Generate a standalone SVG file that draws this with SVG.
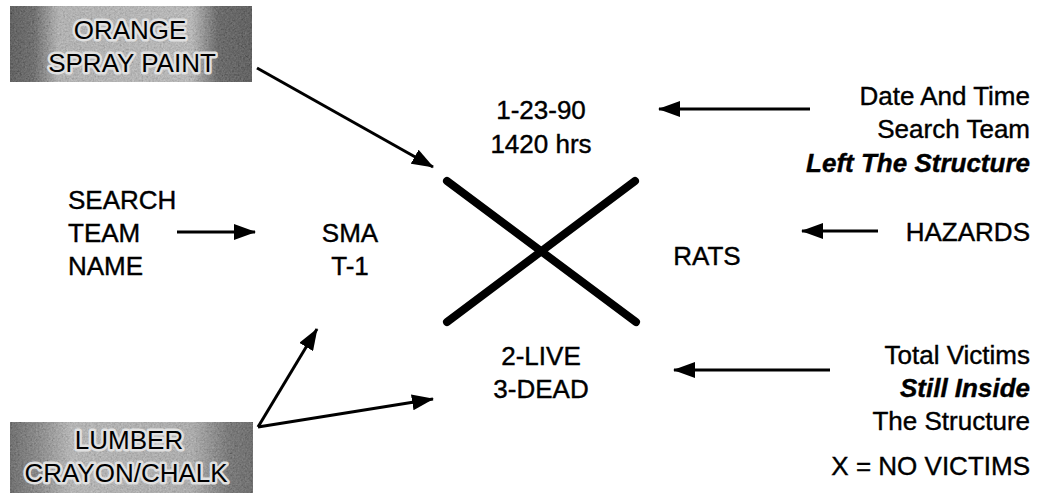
<svg xmlns="http://www.w3.org/2000/svg" width="1037" height="493" viewBox="0 0 1037 493">
<style>
text{font-family:"Liberation Sans",Arial,Helvetica,sans-serif;font-size:26px;fill:#000;stroke:#000;stroke-width:0.4px}
.c{text-anchor:middle}
.e{text-anchor:end}
.bi{font-weight:bold;font-style:italic}
.lbl{paint-order:stroke;stroke:#e0e0e0;stroke-width:5px;stroke-linejoin:round}
.conn{stroke:#000;stroke-width:3;fill:none;marker-end:url(#ah)}
.x{stroke:#000;stroke-width:8;stroke-linecap:round}
</style>
<defs>
<marker id="ah" viewBox="0 0 22 16" refX="21" refY="8" markerWidth="22" markerHeight="16" markerUnits="userSpaceOnUse" orient="auto">
<path d="M0,0 L22,8 L0,16 z" fill="#000"/>
</marker>
<linearGradient id="g1" x1="0" y1="0" x2="1" y2="0">
<stop offset="0" stop-color="#1a1a1a"/>
<stop offset="0.1" stop-color="#333"/>
<stop offset="0.2" stop-color="#aaa"/>
<stop offset="0.75" stop-color="#b5b5b5"/>
<stop offset="0.86" stop-color="#2a2a2a"/>
<stop offset="1" stop-color="#1a1a1a"/>
</linearGradient>
<linearGradient id="g2" x1="0" y1="0" x2="1" y2="0">
<stop offset="0" stop-color="#333"/>
<stop offset="0.12" stop-color="#666"/>
<stop offset="0.25" stop-color="#b0b0b0"/>
<stop offset="0.75" stop-color="#a0a0a0"/>
<stop offset="0.9" stop-color="#444"/>
<stop offset="1" stop-color="#333"/>
</linearGradient>
<filter id="noise" x="0" y="0" width="100%" height="100%">
<feTurbulence type="fractalNoise" baseFrequency="0.55" numOctaves="3" seed="7"/>
<feColorMatrix type="matrix" values="0.4 0.4 0.4 0 -0.1  0.4 0.4 0.4 0 -0.1  0.4 0.4 0.4 0 -0.1  0 0 0 0 1"/>
</filter>
</defs>

<g id="orange-spray-paint">
<rect x="10" y="6" width="242" height="76" fill="url(#g1)"/>
<rect x="10" y="6" width="242" height="76" filter="url(#noise)" opacity="0.45"/>
<text class="c lbl" x="130" y="39">ORANGE</text>
<text class="c lbl" x="132" y="72">SPRAY PAINT</text>
</g>

<g id="lumber-crayon-chalk">
<rect x="10" y="422" width="243" height="71" fill="url(#g2)"/>
<rect x="10" y="422" width="243" height="71" filter="url(#noise)" opacity="0.45"/>
<text class="c lbl" x="129" y="449">LUMBER</text>
<text class="c lbl" x="126" y="482">CRAYON/CHALK</text>
</g>

<g id="search-team-name">
<text x="68" y="209">SEARCH</text>
<text x="68" y="242">TEAM</text>
<text x="68" y="275">NAME</text>
</g>

<g id="sma">
<text class="c" x="350" y="242">SMA</text>
<text class="c" x="350" y="275">T-1</text>
</g>

<g id="date-time">
<text class="c" x="541" y="119">1-23-90</text>
<text class="c" x="541" y="153">1420 hrs</text>
</g>

<g id="victims">
<text class="c" x="541" y="365">2-LIVE</text>
<text class="c" x="541" y="398">3-DEAD</text>
</g>

<g id="rats">
<text class="c" x="707" y="265">RATS</text>
</g>

<g id="x-mark">
<line class="x" x1="447" y1="181" x2="636" y2="322"/>
<line class="x" x1="635" y1="181" x2="447" y2="322"/>
</g>

<g id="date-label">
<text class="e" x="1030" y="105">Date And Time</text>
<text class="e" x="1030" y="138">Search Team</text>
<text class="e bi" x="1030" y="172">Left The Structure</text>
</g>

<g id="hazards">
<text class="e" x="1030" y="241">HAZARDS</text>
</g>

<g id="victims-label">
<text class="e" x="1030" y="364">Total Victims</text>
<text class="e bi" x="1030" y="397">Still Inside</text>
<text class="e" x="1030" y="430">The Structure</text>
</g>

<g id="legend">
<text class="e" x="1030" y="475">X = NO VICTIMS</text>
</g>

<g id="connectors">
<line class="conn" x1="257" y1="68" x2="433" y2="167"/>
<line class="conn" x1="177" y1="232" x2="255" y2="232"/>
<line class="conn" x1="258" y1="427" x2="317" y2="329"/>
<line class="conn" x1="258" y1="427" x2="433" y2="399"/>
<line class="conn" x1="810" y1="109" x2="659" y2="109"/>
<line class="conn" x1="878" y1="231" x2="802" y2="231"/>
<line class="conn" x1="830" y1="370" x2="674" y2="370"/>
</g>
</svg>
